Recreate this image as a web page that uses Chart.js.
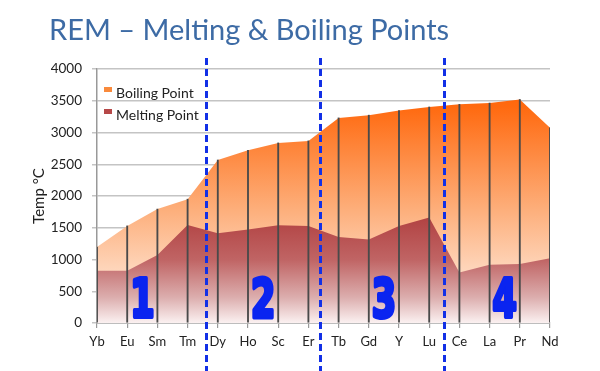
<!DOCTYPE html>
<html>
<head>
<meta charset="utf-8">
<title>REM - Melting & Boiling Points</title>
<script src="https://cdn.jsdelivr.net/npm/chart.js@4.4.1/dist/chart.umd.min.js"></script>
<style>
  html, body { margin: 0; padding: 0; background: #fff; }
  #wrap { position: relative; width: 600px; height: 371px; overflow: hidden; }
  #titre { position: absolute; left: 49px; top: 11px; margin: 0; font-family: Lato, 'Open Sans', sans-serif;
           font-weight: normal; font-size: 29px; line-height: 36px; color: #3d6ba5; white-space: nowrap; }
  #chart { position: absolute; left: 0; top: 0; }
</style>
</head>
<body>
<div id="wrap">
  <canvas id="chart" width="600" height="371"></canvas>
  <h1 id="titre">REM – Melting &amp; Boiling Points</h1>
</div>
<script>
// elements, left to right
var elements = ['Yb','Eu','Sm','Tm','Dy','Ho','Sc','Er','Tb','Gd','Y','Lu','Ce','La','Pr','Nd'];
// temperatures in degC
var boiling = [1196,1529,1794,1950,2567,2720,2836,2868,3230,3273,3345,3402,3443,3464,3520,3074];
var melting = [824,822,1072,1545,1412,1474,1541,1529,1356,1313,1526,1663,795,918,931,1021];
var yTicks = [0,500,1000,1500,2000,2500,3000,3500,4000];
// groups: boundaries (in category index) and labels
var groupEdges = [3.6, 7.4, 11.5];
var groupCenters = [1.5, 5.5, 9.5, 13.5];
var groupNames = ['1','2','3','4'];
var legendColors = ['#f98a3c', '#b64848'];

var fontFam = "Lato, 'Open Sans', sans-serif";

function boilFill(context){
  var chart = context.chart;
  var area = chart.chartArea;
  if(!area) return legendColors[0];
  var g = chart.ctx.createLinearGradient(0, area.top, 0, area.bottom);
  g.addColorStop(0, '#ff5c00');
  g.addColorStop(0.15, '#ff6a10');
  g.addColorStop(0.55, '#fdae7a');
  g.addColorStop(1, '#fff8f3');
  return g;
}

function meltFill(context){
  var chart = context.chart;
  var area = chart.chartArea;
  if(!area) return legendColors[1];
  var g = chart.ctx.createLinearGradient(0, area.top, 0, area.bottom);
  g.addColorStop(0, '#9a2222');
  g.addColorStop(0.5, '#aa3131');
  g.addColorStop(0.75, '#c06464');
  g.addColorStop(0.9, '#dcaeae');
  g.addColorStop(1, '#fbf1f1');
  return g;
}

// legend inside the plot, top left
var legendPlugin = {
  id: 'legendIn',
  afterDatasetsDraw: function(chart){
    var ctx = chart.ctx;
    var a = chart.chartArea;
    ctx.save();
    ctx.font = '14px ' + fontFam;
    ctx.textBaseline = 'middle';
    ctx.textAlign = 'left';
    for(var i=0;i<2;i++){
      var yy = a.top + 24 + i*22;
      ctx.fillStyle = legendColors[i];
      ctx.fillRect(a.left + 7, yy - 6, 8, 5);
      ctx.fillStyle = '#222';
      ctx.fillText(chart.data.datasets[i].label, a.left + 19, yy);
    }
    ctx.restore();
  }
};

// blue dashed separators and big group numbers
var groupsPlugin = {
  id: 'groups',
  afterDraw: function(chart){
    var ctx = chart.ctx;
    var x = chart.scales.x;
    var y = chart.scales.y;
    var i;
    ctx.save();
    ctx.fillStyle = '#0a24f0';
    ctx.strokeStyle = '#0a24f0';
    ctx.lineWidth = 4;
    ctx.lineJoin = 'round';
    ctx.textAlign = 'center';
    ctx.textBaseline = 'alphabetic';
    ctx.font = "bold 54px 'DejaVu Sans Condensed', 'DejaVu Sans', sans-serif";
    for(i=0;i<groupNames.length;i++){
      var px = x.getPixelForValue(groupCenters[i]);
      var py = y.getPixelForValue(100);
      ctx.save();
      ctx.translate(px, py);
      ctx.scale(0.72, 1);
      ctx.strokeText(groupNames[i], 0, 0);
      ctx.fillText(groupNames[i], 0, 0);
      ctx.restore();
    }
    ctx.strokeStyle = '#1230e6';
    ctx.lineWidth = 3;
    ctx.setLineDash([7,4]);
    for(i=0;i<groupEdges.length;i++){
      var lx = Math.round(x.getPixelForValue(groupEdges[i])) + 0.5;
      ctx.beginPath();
      ctx.moveTo(lx, 58);
      ctx.lineTo(lx, chart.height);
      ctx.stroke();
    }
    ctx.restore();
  }
};

var ctx = document.getElementById('chart').getContext('2d');
var myChart = new Chart(ctx, {
  type: 'line',
  data: {
    labels: elements,
    datasets: [
      {
        label: 'Boiling Point',
        data: boiling,
        backgroundColor: boilFill,
        borderWidth: 0,
        pointRadius: 0,
        fill: 'origin',
        tension: 0,
        order: 2
      },
      {
        label: 'Melting Point',
        data: melting,
        backgroundColor: meltFill,
        borderWidth: 0,
        pointRadius: 0,
        fill: 'origin',
        tension: 0,
        order: 1
      },
      {
        type: 'bar',
        label: 'drop',
        data: boiling,
        backgroundColor: '#4a4a4a',
        barThickness: 1.2,
        order: 0
      }
    ]
  },
  options: {
    responsive: false,
    animation: false,
    layout: { padding: { top: 69, right: 50, bottom: 0, left: 0 } },
    plugins: {
      title: { display: false },
      tooltip: { enabled: false },
      legend: { display: false }
    },
    scales: {
      x: {
        offset: false,
        afterFit: function(scale){ scale.height = 48; },
        grid: { offset: false, drawOnChartArea: false, drawTicks: true, tickLength: 5, color: '#999', lineWidth: 1.2 },
        border: { color: '#999', width: 1.5 },
        ticks: { color: '#222', padding: 6, font: { family: fontFam, size: 13 }, maxRotation: 0, autoSkip: false }
      },
      y: {
        min: 0,
        max: 4000,
        afterFit: function(scale){ scale.width = 97; },
        afterBuildTicks: function(scale){ scale.ticks = yTicks.map(function(v){ return {value: v}; }); },
        grid: { color: '#c4c4c4', lineWidth: 1.5, tickLength: 5 },
        border: { color: '#999', width: 1.5 },
        ticks: { color: '#222', padding: 10, font: { family: fontFam, size: 13.5 },
                 callback: function(v){ return String(v); } },
        title: { display: true, text: 'Temp °C', color: '#222', font: { family: fontFam, size: 15 },
                 padding: { top: 30, bottom: 0 } }
      }
    }
  },
  plugins: [legendPlugin, groupsPlugin]
});
</script>
</body>
</html>
